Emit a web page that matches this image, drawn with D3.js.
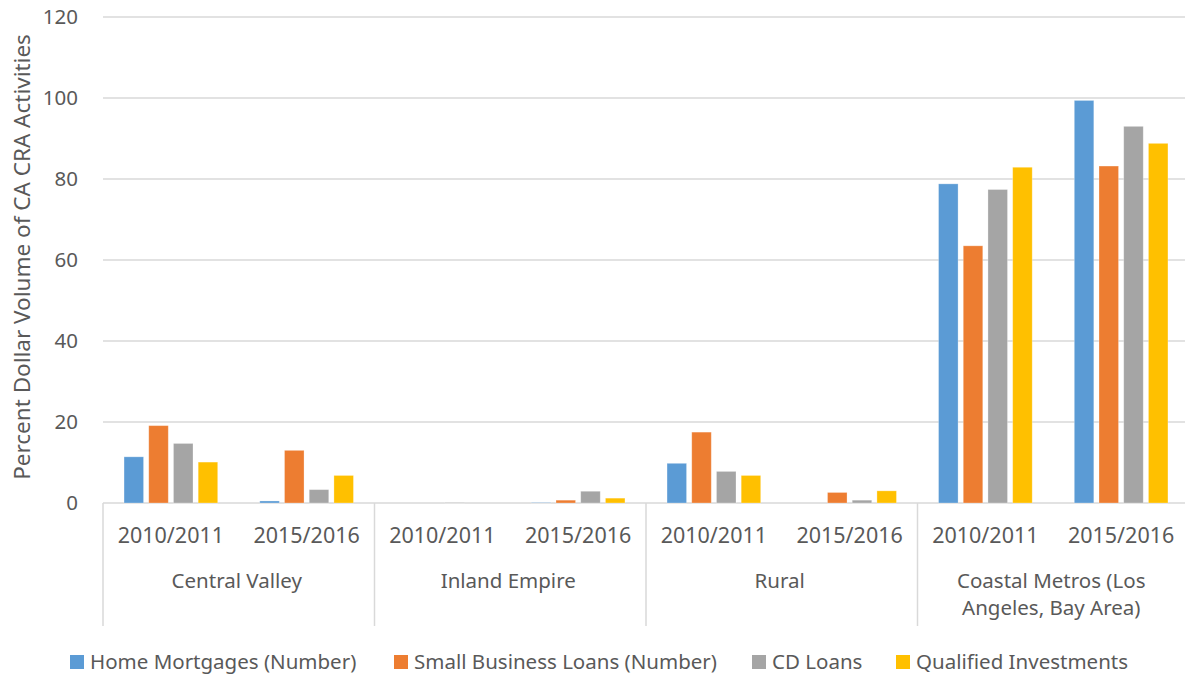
<!DOCTYPE html>
<html>
<head>
<meta charset="utf-8">
<script src="https://cdn.jsdelivr.net/npm/d3@7"></script>
<style>
  body { margin: 0; background: #fff; overflow: hidden; }
  text { font-family: "Noto Sans", "Open Sans", sans-serif; fill: #595959; }
</style>
</head>
<body>
<script>
// data
var regions = ['Central Valley', 'Inland Empire', 'Rural', 'Coastal Metros (Los Angeles, Bay Area)'],
    periods = ['2010/2011', '2015/2016'],
    seriesNames = ['Home Mortgages (Number)', 'Small Business Loans (Number)', 'CD Loans', 'Qualified Investments'],
    colors = ['#5b9bd5', '#ed7d31', '#a5a5a5', '#ffc000'],
    homeMortgages  = [11.4, 0.5, 0, 0.1, 9.8, 0, 78.8, 99.4],
    smallBusiness  = [19.1, 13.0, 0, 0.7, 17.5, 2.6, 63.5, 83.2],
    cdLoans        = [14.7, 3.3, 0.1, 2.9, 7.8, 0.7, 77.4, 93.0],
    qualifiedInv   = [10.1, 6.8, 0, 1.2, 6.8, 3.0, 82.9, 88.8],
    yTicks = [0, 20, 40, 60, 80, 100, 120];

var allSeries = [homeMortgages, smallBusiness, cdLoans, qualifiedInv];

var w = 1185, h = 679,
    pLeft = 103, pRight = 1189, pTop = 17, pBottom = 503;

var svg = d3.select('body').append('svg')
  .attr('width', w)
  .attr('height', h);

// slots: region x period
var slots = [];
regions.forEach(function(r, i) {
  periods.forEach(function(p, j) { slots.push({region: i, period: p, key: i + '-' + j}); });
});

var x0 = d3.scaleBand()
  .domain(slots.map(function(d) { return d.key; }))
  .range([pLeft, pRight])
  .paddingInner(0.31)
  .paddingOuter(0.155);

var x1 = d3.scaleBand()
  .domain(d3.range(seriesNames.length))
  .range([0, x0.bandwidth()])
  .paddingInner(0.21);

var y = d3.scaleLinear().domain([0, 120]).range([pBottom, pTop]);

var regionX = d3.scaleBand()
  .domain(d3.range(regions.length))
  .range([pLeft, pRight]);

// gridlines
svg.append('g')
  .selectAll('line')
  .data(yTicks)
  .enter()
  .append('line')
  .attr('x1', pLeft)
  .attr('x2', pRight)
  .attr('y1', function(d) { return y(d); })
  .attr('y2', function(d) { return y(d); })
  .attr('stroke', '#d9d9d9')
  .attr('stroke-width', 1.5);

// y tick labels
svg.append('g')
  .selectAll('text')
  .data(yTicks)
  .enter()
  .append('text')
  .attr('x', 78)
  .attr('y', function(d) { return y(d); })
  .attr('dy', '0.36em')
  .attr('text-anchor', 'end')
  .style('font-size', '20.5px')
  .text(function(d) { return d; });

// y title
svg.append('text')
  .attr('transform', 'translate(30,257) rotate(-90)')
  .attr('text-anchor', 'middle')
  .style('font-size', '22.5px')
  .text('Percent Dollar Volume of CA CRA Activities');

// bars
var groups = svg.append('g')
  .selectAll('g')
  .data(slots)
  .enter()
  .append('g')
  .attr('transform', function(d) { return 'translate(' + x0(d.key) + ',0)'; });

groups.selectAll('rect')
  .data(function(d, i) {
    return allSeries.map(function(s, k) { return {k: k, v: s[i]}; });
  })
  .enter()
  .append('rect')
  .attr('x', function(d) { return x1(d.k); })
  .attr('width', x1.bandwidth())
  .attr('y', function(d) { return y(d.v); })
  .attr('height', function(d) { return y(0) - y(d.v); })
  .attr('fill', function(d) { return colors[d.k]; })
  .attr('stroke', '#fff')
  .attr('stroke-opacity', 0.35)
  .attr('stroke-width', 0.8);

// category separators
svg.append('g')
  .selectAll('line')
  .data(d3.range(regions.length))
  .enter()
  .append('line')
  .attr('x1', function(d) { return regionX(d); })
  .attr('x2', function(d) { return regionX(d); })
  .attr('y1', pBottom)
  .attr('y2', 626)
  .attr('stroke', '#d9d9d9')
  .attr('stroke-width', 1.5);

// period labels
svg.append('g')
  .selectAll('text')
  .data(slots)
  .enter()
  .append('text')
  .attr('x', function(d) { return x0(d.key) + x0.bandwidth() / 2; })
  .attr('y', 543)
  .attr('text-anchor', 'middle')
  .style('font-size', '21.5px')
  .text(function(d) { return d.period; });

// region labels
var regionLines = [['Central Valley'], ['Inland Empire'], ['Rural'], ['Coastal Metros (Los', 'Angeles, Bay Area)']];
svg.append('g')
  .selectAll('text')
  .data(regionLines)
  .enter()
  .append('text')
  .attr('x', function(d, i) { return regionX(i) + regionX.bandwidth() / 2 - 2; })
  .attr('y', 588)
  .attr('text-anchor', 'middle')
  .style('font-size', '20.5px')
  .each(function(lines) {
    var t = d3.select(this);
    lines.forEach(function(l, i) {
      t.append('tspan')
        .attr('x', t.attr('x'))
        .attr('dy', i === 0 ? 0 : 27)
        .text(l);
    });
  });

// legend
var legendX = [70, 394, 752, 896];
var legend = svg.append('g')
  .selectAll('g')
  .data(seriesNames)
  .enter()
  .append('g')
  .attr('transform', function(d, i) { return 'translate(' + legendX[i] + ',655)'; });

legend.append('rect')
  .attr('width', 14)
  .attr('height', 14)
  .attr('fill', function(d, i) { return colors[i]; });

legend.append('text')
  .attr('x', 20)
  .attr('y', 7)
  .attr('dy', '0.36em')
  .style('font-size', '20.5px')
  .text(function(d) { return d; });
</script>
</body>
</html>
